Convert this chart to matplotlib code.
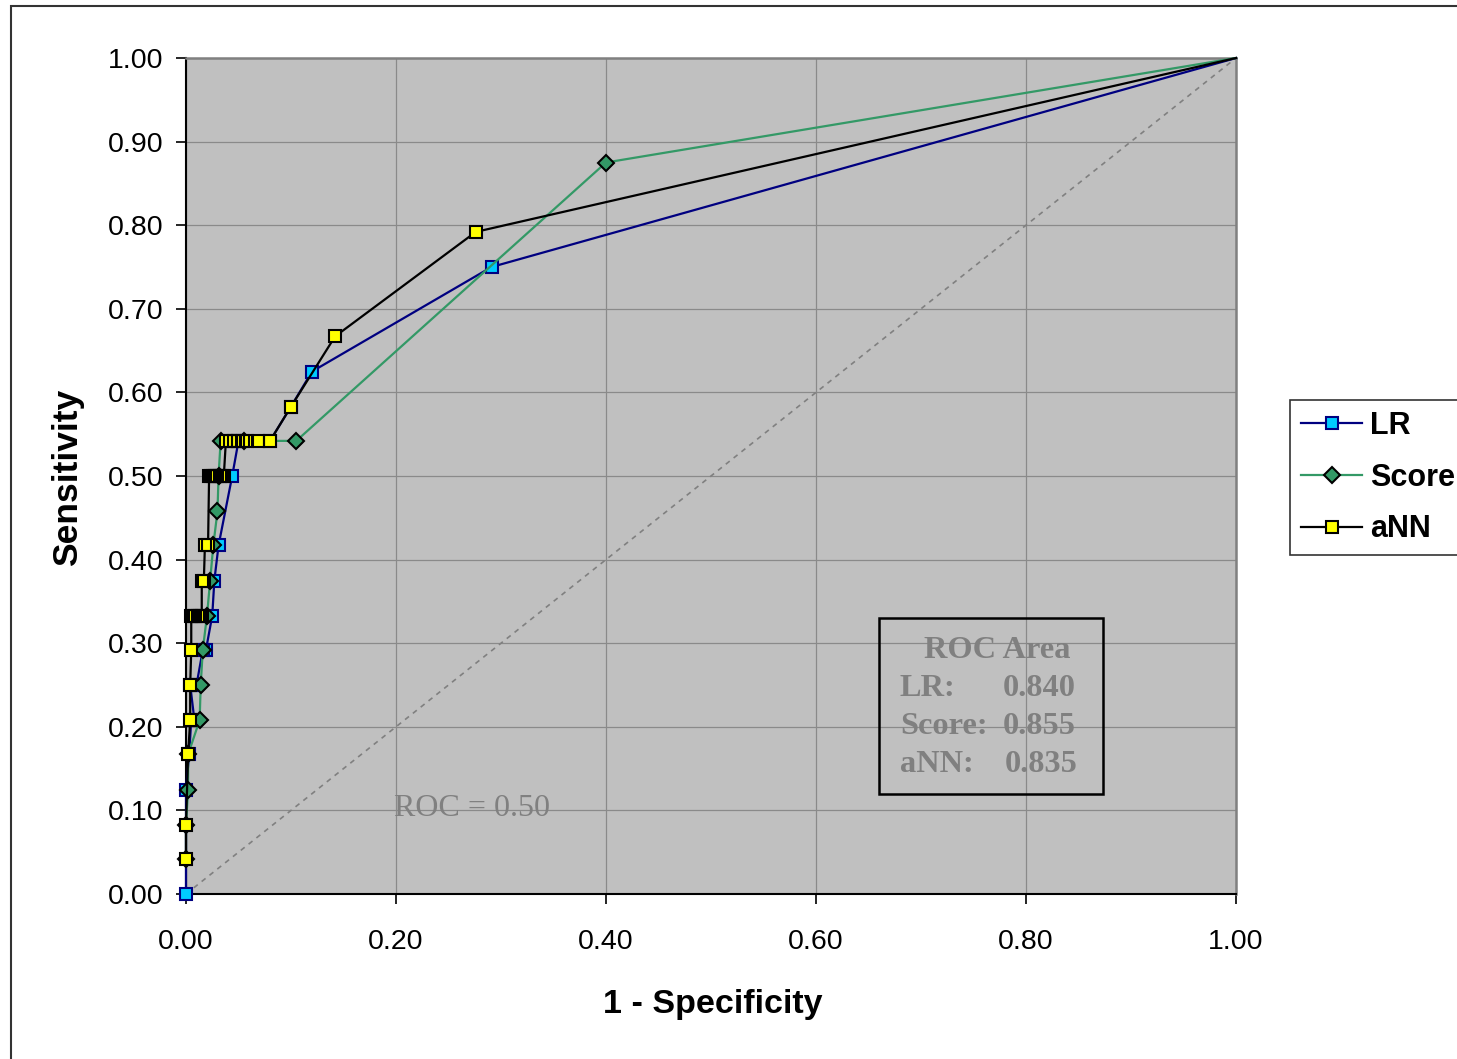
import matplotlib
matplotlib.use("Agg")
import matplotlib.pyplot as plt
from matplotlib.patches import Rectangle

# ROC curve points: 1 - specificity (false positive rate) vs sensitivity
lr_fpr = [0.0, 0.0, 0.003, 0.005, 0.008, 0.004, 0.007, 0.010, 0.016, 0.019,
          0.025, 0.027, 0.031, 0.044, 0.050, 0.080, 0.100, 0.120, 0.291, 1.0]
lr_tpr = [0.0, 0.125, 0.167, 0.208, 0.208, 0.250, 0.250, 0.250, 0.292, 0.292,
          0.333, 0.375, 0.417, 0.500, 0.542, 0.542, 0.583, 0.625, 0.750, 1.0]

score_fpr = [0.0, 0.0, 0.002, 0.002, 0.013, 0.014, 0.016, 0.020, 0.023, 0.026,
             0.030, 0.031, 0.033, 0.055, 0.105, 0.400, 1.0]
score_tpr = [0.042, 0.083, 0.125, 0.167, 0.208, 0.250, 0.292, 0.333, 0.375, 0.417,
             0.458, 0.500, 0.542, 0.542, 0.542, 0.875, 1.0]

ann_fpr = [0.0, 0.0, 0.002, 0.004, 0.004, 0.005,
           0.005, 0.007, 0.009, 0.011, 0.013, 0.015,
           0.015, 0.017, 0.018, 0.021,
           0.022, 0.024, 0.026, 0.028, 0.030, 0.032, 0.034, 0.036,
           0.038, 0.042, 0.046, 0.050, 0.054, 0.058, 0.069, 0.080,
           0.100, 0.142, 0.276, 1.0]
ann_tpr = [0.042, 0.083, 0.167, 0.208, 0.250, 0.292,
           0.333, 0.333, 0.333, 0.333, 0.333, 0.333,
           0.375, 0.375, 0.417, 0.417,
           0.500, 0.500, 0.500, 0.500, 0.500, 0.500, 0.500, 0.500,
           0.542, 0.542, 0.542, 0.542, 0.542, 0.542, 0.542, 0.542,
           0.583, 0.667, 0.792, 1.0]

series_names = ["LR", "Score", "aNN"]
auc_values = ["0.840", "0.855", "0.835"]

x_ticks = [0.0, 0.2, 0.4, 0.6, 0.8, 1.0]
y_ticks = [0.0, 0.1, 0.2, 0.3, 0.4, 0.5, 0.6, 0.7, 0.8, 0.9, 1.0]

SANS = "Liberation Sans"
SERIF = "Liberation Serif"
plt.rcParams["font.family"] = [SANS, "DejaVu Sans"]

W, H = 1457, 1059
fig = plt.figure(figsize=(W / 100, H / 100), dpi=100)
fig.patch.set_facecolor("white")

def fx(px):
    return px / W

def fy(py):
    return 1 - py / H

ax = fig.add_axes([fx(186), fy(894), (1236 - 186) / W, (894 - 58) / H])
ax.set_facecolor("#C0C0C0")
ax.set_xlim(0, 1)
ax.set_ylim(0, 1)

ax.set_xticks(x_ticks)
ax.set_yticks(y_ticks)
ax.set_xticklabels([f"{v:.2f}" for v in x_ticks])
ax.set_yticklabels([f"{v:.2f}" for v in y_ticks])
ax.tick_params(axis="both", direction="out", length=7, width=1.2, colors="black",
               labelsize=20.5)
ax.tick_params(axis="x", pad=18)
ax.tick_params(axis="y", pad=9)
ax.grid(True, color="#8a8a8a", linewidth=0.9)
ax.set_axisbelow(True)

for side in ("top", "right"):
    ax.spines[side].set_color("#808080")
    ax.spines[side].set_linewidth(1.8)
for side in ("left", "bottom"):
    ax.spines[side].set_color("black")
    ax.spines[side].set_linewidth(1.5)

# chance diagonal
ax.plot([0, 1], [0, 1], color="#808080", linewidth=1.2, linestyle=(0, (3, 3)),
        zorder=2)

styles = [
    (lr_fpr, lr_tpr, "#000080", "s", 8.5, "#00CCFF", "#000080"),
    (score_fpr, score_tpr, "#339966", "D", 8, "#339966", "black"),
    (ann_fpr, ann_tpr, "black", "s", 8.5, "#FFFF00", "black"),
]
for i, (xs, ys, lc, mk, ms, mfc, mec) in enumerate(styles):
    z = 3 + i
    marked = list(range(len(xs) - 1))  # no marker on the (1, 1) corner
    ax.plot(xs, ys, color=lc, linewidth=1.6, zorder=z, clip_on=False)
    # marker fills first, then all outlines on top of them
    ax.plot(xs, ys, linestyle="none", marker=mk, markersize=ms, markerfacecolor=mfc,
            markeredgecolor="none", markevery=marked, zorder=z + 0.1, clip_on=False)
    ax.plot(xs, ys, linestyle="none", marker=mk, markersize=ms,
            markerfacecolor="none", markeredgecolor=mec, markeredgewidth=1.5,
            markevery=marked, zorder=z + 0.2, clip_on=False)

# legend proxies
handles = []
for name, (xs, ys, lc, mk, ms, mfc, mec) in zip(series_names, styles):
    h, = ax.plot([], [], color=lc, linewidth=1.6, marker=mk, markersize=ms + 0.5,
                 markerfacecolor=mfc, markeredgecolor=mec, markeredgewidth=1.5,
                 label=name)
    handles.append(h)

def dx(px):
    return (px - 186) / 1050

def dy(py):
    return (894 - py) / 836

ax.text(dx(394), dy(808), "ROC = 0.50", fontsize=23, color="#808080",
        family=SERIF, ha="left", va="center", zorder=8)

# AUC summary box
ax.add_patch(Rectangle((dx(879), dy(794)), dx(1103) - dx(879), dy(618) - dy(794),
                       facecolor="none", edgecolor="black", linewidth=1.8, zorder=8))
ax.text(dx(997), dy(650), "ROC Area", fontsize=23.3, color="#808080", family=SERIF,
        fontweight="bold", ha="center", va="center", zorder=9)
row_y = [688, 726, 764]
val_x = [1003, 1003, 1005]
for name, val, ry, vx in zip(series_names, auc_values, row_y, val_x):
    ax.text(dx(900), dy(ry), name + ":", fontsize=23.3, color="#808080", family=SERIF,
            fontweight="bold", ha="left", va="center", zorder=9)
    ax.text(dx(vx), dy(ry), val, fontsize=23.3, color="#808080", family=SERIF,
            fontweight="bold", ha="left", va="center", zorder=9)

fig.text(fx(713), fy(1005), "1 - Specificity", fontsize=24.5, fontweight="bold",
         ha="center", va="center")
fig.text(fx(68), fy(477), "Sensitivity", fontsize=25.5, fontweight="bold",
         ha="center", va="center", rotation=90)

leg = fig.legend(handles=handles, loc="upper left", bbox_to_anchor=(fx(1290), fy(400)),
                 borderaxespad=0, frameon=True, fancybox=False, shadow=False,
                 prop={"family": SANS, "weight": "bold", "size": 22},
                 handlelength=2.0, handletextpad=0.25, labelspacing=0.71,
                 borderpad=0.36)
leg.get_frame().set_edgecolor("black")
leg.get_frame().set_linewidth(1.2)
leg.get_frame().set_facecolor("white")

# outer chart frame
fig.add_artist(Rectangle((fx(11), -0.1), 1.2, fy(6) + 0.1, transform=fig.transFigure,
                         fill=False, edgecolor="#333333", linewidth=1.5, clip_on=False))

fig.savefig("out.png", dpi=100)
